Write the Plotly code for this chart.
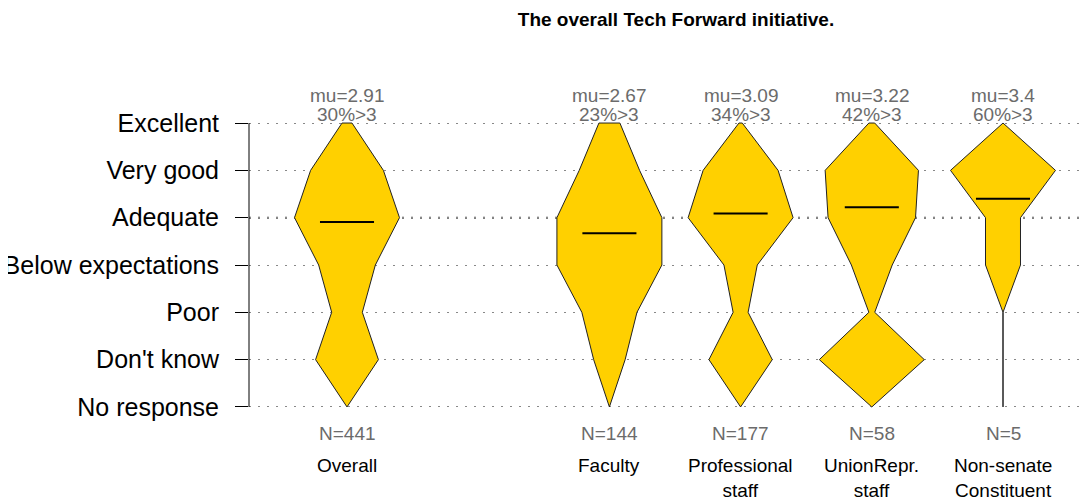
import plotly.graph_objects as go

# response levels, bottom to top
levels = ["No response", "Don't know", "Poor", "Below expectations",
          "Adequate", "Very good", "Excellent"]

groups = ["Overall", "Faculty", "Professional<br>staff", "UnionRepr.<br>staff",
          "Non-senate<br>Constituent"]
group_pos = [1, 3, 4, 5, 6]

# counts per level (same order as levels)
overall = [0, 82, 40, 74, 137, 95, 13]
faculty = [0, 12, 21, 40, 40, 23, 8]
professional = [0, 38, 9, 20, 63, 45, 2]
union_staff = [0, 18, 1, 7, 15, 16, 1]
non_senate = [0, 0, 0, 1, 1, 3, 0]
counts = [overall, faculty, professional, union_staff, non_senate]

mu = [2.91, 2.67, 3.09, 3.22, 3.4]
pct_above = [30, 23, 34, 42, 60]
n_resp = [441, 144, 177, 58, 5]

FILL = "#FFD000"
GRAY = "#6b6b6b"
FONT = "Liberation Sans, Arial, sans-serif"
HALF = 0.4

fig = go.Figure()

for pos, cnt in zip(group_pos, counts):
    top = max(cnt)
    w = [c / top * HALF for c in cnt]
    ys = list(range(len(levels)))
    xs = [pos + v for v in w] + [pos - v for v in reversed(w)]
    yy = ys + list(reversed(ys))
    fig.add_trace(go.Scatter(
        x=xs + [xs[0]], y=yy + [yy[0]],
        mode="lines", fill="toself", fillcolor=FILL,
        line=dict(color="#222", width=1),
        hoverinfo="skip", showlegend=False))

for pos, m in zip(group_pos, mu):
    fig.add_trace(go.Scatter(
        x=[pos - 0.206, pos + 0.206], y=[m + 1, m + 1],
        mode="lines", line=dict(color="black", width=2),
        hoverinfo="skip", showlegend=False))

ann = []
for pos, m, p, n, g in zip(group_pos, mu, pct_above, n_resp, groups):
    ann.append(dict(x=pos, y=6, text=f"mu={m}", yshift=28, yanchor="middle",
                    showarrow=False, font=dict(size=19, color=GRAY, family=FONT)))
    ann.append(dict(x=pos, y=6, text=f"{p}%>3", yshift=9, yanchor="middle",
                    showarrow=False, font=dict(size=19, color=GRAY, family=FONT)))
    ann.append(dict(x=pos, y=0, text=f"N={n}", yshift=-27, yanchor="middle",
                    showarrow=False, font=dict(size=19, color=GRAY, family=FONT)))
    ann.append(dict(x=pos, y=0, text=g, yshift=-46, yanchor="top",
                    showarrow=False, font=dict(size=19, color="black", family=FONT)))

# page body has an 8px margin, so the figure is sized to fill the rest
fig.update_layout(
    width=1084, height=492,
    margin=dict(l=241, r=7, t=92, b=70),
    paper_bgcolor="white", plot_bgcolor="white",
    title=dict(text="<b>The overall Tech Forward initiative.</b>",
               x=668 / 1084, xanchor="center", xref="container",
               y=1 - 11 / 492, yanchor="middle",
               font=dict(size=19, color="black", family=FONT)),
    annotations=ann,
    shapes=[
        dict(type="line", xref="paper", yref="y", x0=0, x1=1, y0=4, y1=4,
             line=dict(color="#555", width=2, dash="2px,7px"), layer="below"),
        dict(type="line", xref="paper", yref="y", x0=0, x1=0, y0=0, y1=6,
             line=dict(color="black", width=1)),
    ],
)
fig.update_xaxes(range=[0.253, 6.625], showgrid=False, zeroline=False,
                 showticklabels=False, ticks="", automargin=False)
fig.update_yaxes(range=[-0.487, 6.487], tickvals=list(range(len(levels))),
                 ticktext=levels, ticks="outside", ticklen=13, tickcolor="black",
                 ticklabelstandoff=11, automargin=False,
                 tickfont=dict(size=25, color="black", family=FONT),
                 showgrid=True, gridcolor="#888", griddash="2px,7px", gridwidth=1,
                 zeroline=False, showline=False)

fig.write_html("out.html")
